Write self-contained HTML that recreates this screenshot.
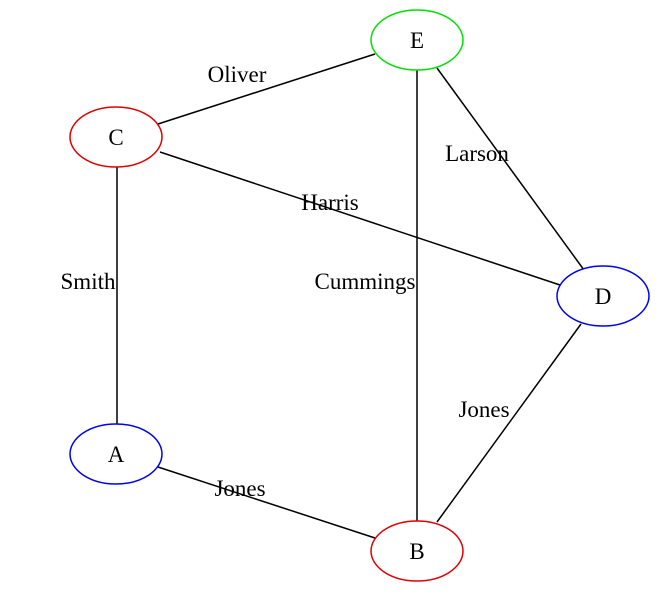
<!DOCTYPE html>
<html><head><style>html,body{margin:0;padding:0;background:#fff}svg{display:block}</style></head>
<body>
<svg width="661" height="599" viewBox="0 0 661 599" xmlns="http://www.w3.org/2000/svg" font-family="Liberation Serif, serif" font-size="23">
<g stroke="#000" stroke-width="1.5" fill="none">
<line x1="158" y1="124" x2="375" y2="54"/>
<line x1="437" y1="68" x2="584" y2="270"/>
<line x1="160" y1="152" x2="560" y2="285"/>
<line x1="417" y1="70" x2="417" y2="521"/>
<line x1="117" y1="167" x2="117" y2="424"/>
<line x1="158" y1="467" x2="375" y2="538"/>
<line x1="581" y1="324" x2="437" y2="522"/>
</g>
<g fill="#fff" stroke-width="1.5">
<ellipse cx="417" cy="40" rx="46" ry="30" stroke="#00e000"/>
<ellipse cx="116" cy="137" rx="46" ry="30" stroke="#e00000"/>
<ellipse cx="116" cy="454" rx="46" ry="30" stroke="#0000ee"/>
<ellipse cx="417" cy="551" rx="46" ry="30" stroke="#e00000"/>
<ellipse cx="603" cy="296" rx="46" ry="30" stroke="#0000ee"/>
</g>
<g fill="#000" text-anchor="middle">
<text x="417" y="48">E</text>
<text x="116" y="145">C</text>
<text x="116" y="462">A</text>
<text x="417" y="559">B</text>
<text x="603" y="304">D</text>
<text x="237" y="82">Oliver</text>
<text x="477" y="161">Larson</text>
<text x="330" y="210">Harris</text>
<text x="365" y="289">Cummings</text>
<text x="88" y="289">Smith</text>
<text x="240" y="496">Jones</text>
<text x="484" y="417">Jones</text>
</g>
</svg>
</body></html>
